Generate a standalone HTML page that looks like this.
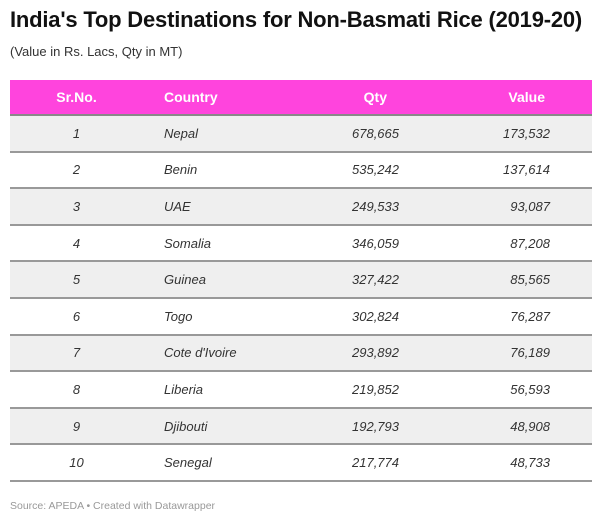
<!DOCTYPE html>
<html><head><meta charset="utf-8"><style>
body{margin:0;width:600px;height:522px;background:#fff;font-family:"Liberation Sans",sans-serif;position:relative;overflow:hidden}
.t{position:absolute;left:10px;top:7px;font-size:22px;font-weight:bold;color:#111;letter-spacing:-0.2px}
.s{position:absolute;left:10px;top:44px;font-size:13px;color:#333}
table{position:absolute;left:10px;top:80px;width:582px;border-collapse:collapse}
th{background:#ff44dd;color:#fff;font-size:14px;font-weight:bold;height:34px;padding:0;border-bottom:2px solid #888}
td{height:34.6px;padding:0;font-style:italic;font-size:13px;color:#333;border-bottom:2px solid #999}
tr:nth-child(odd) td{background:#efefef}
.c1{width:133px;text-align:center}.c2{padding-left:21px;text-align:left}
.c3{text-align:right;width:160px}.c4{text-align:right;width:146px;padding-right:42px}
.src{position:absolute;left:10px;top:500px;font-size:10.5px;color:#999}
</style></head><body>
<div class="t">India's Top Destinations for Non-Basmati Rice (2019-20)</div>
<div class="s">(Value in Rs. Lacs, Qty in MT)</div>
<table>
<thead><tr>
<th class="c1">Sr.No.</th>
<th class="c2">Country</th>
<th class="c3" style="text-align:right;padding-right:0"><span style="margin-right:12px">Qty</span></th>
<th class="c4" style="text-align:right;padding-right:47px">Value</th>
</tr></thead>
<tbody id="tb"></tbody></table>
<div class="src">Source: APEDA • Created with Datawrapper</div>
<script>
const countries=["Nepal","Benin","UAE","Somalia","Guinea","Togo","Cote d'Ivoire","Liberia","Djibouti","Senegal"];
const qty=[678665,535242,249533,346059,327422,302824,293892,219852,192793,217774];
const values=[173532,137614,93087,87208,85565,76287,76189,56593,48908,48733];
const tb=document.getElementById('tb');
countries.forEach((c,i)=>{
const tr=document.createElement('tr');


const cells=[[String(i+1),'c1'],[c,'c2'],[qty[i].toLocaleString('en-US'),'c3'],[values[i].toLocaleString('en-US'),'c4']];
cells.forEach(([t,cl],j)=>{
const td=document.createElement('td');td.className=cl;td.textContent=t;


tr.appendChild(td);});
tb.appendChild(tr);});
</script>
</body></html>
